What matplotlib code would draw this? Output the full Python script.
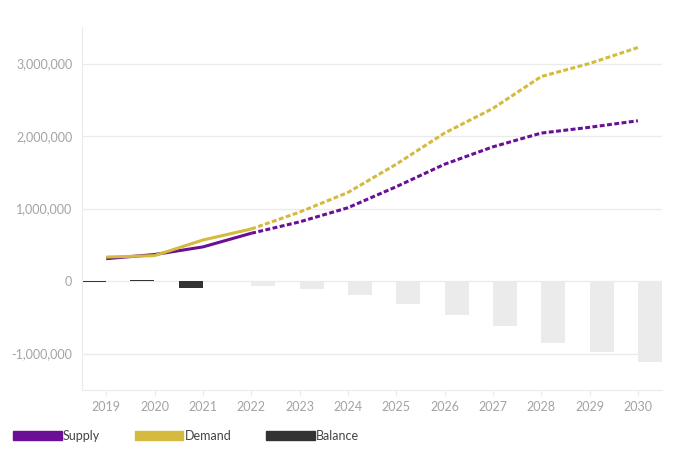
import numpy as np
import matplotlib.pyplot as plt
from matplotlib.patches import Patch
from matplotlib.ticker import FuncFormatter

years = [2019, 2020, 2021, 2022, 2023, 2024, 2025, 2026, 2027, 2028, 2029, 2030]

# supply / demand (actuals up to 2022, forecast after)
supply = [308000, 365000, 470000, 658000, 815000, 1010000, 1300000, 1610000,
          1850000, 2040000, 2120000, 2210000]
demand = [330000, 350000, 565000, 717000, 950000, 1220000, 1610000, 2040000,
          2380000, 2820000, 3000000, 3220000]

hist_years = [2019, 2020, 2021]
hist_balance = [-12000, 10000, -100000]
fc_years = [2022, 2023, 2024, 2025, 2026, 2027, 2028, 2029, 2030]
fc_balance = [-70000, -115000, -189000, -317000, -469000, -621000, -851000,
              -979000, -1120000]

purple = '#6a0f96'
gold = '#d4ba3e'
dark = '#333333'
lightbar = '#ebebeb'
gridc = '#ebebeb'
tickc = '#a3a3a3'

plt.rcParams['font.family'] = ['Lato', 'DejaVu Sans']

fig = plt.figure(figsize=(6.8, 4.59), dpi=100)
ax = fig.add_axes([82/680, 1-389.75/459, 580/680, 362.5/459])

ax.bar(np.array(hist_years) - 0.25, hist_balance, width=0.5, color=dark, zorder=2)
ax.bar(np.array(fc_years) + 0.25, fc_balance, width=0.5, color=lightbar, zorder=2)

split = years.index(2022)
ax.plot(years[:split+1], supply[:split+1], color=purple, lw=2.2, zorder=3,
        solid_capstyle='butt')
ax.plot(years[split:], supply[split:], color=purple, lw=2.2, zorder=3,
        linestyle=(0, (1.6, 0.8)))
ax.plot(years[:split+1], demand[:split+1], color=gold, lw=2.2, zorder=4,
        solid_capstyle='butt')
ax.plot(years[split:], demand[split:], color=gold, lw=2.2, zorder=4,
        linestyle=(0, (1.6, 0.8)))

ax.set_xlim(2018.5, 2030.5)
ax.set_ylim(-1500000, 3500000)
ax.set_xticks(years)
ax.set_yticks([-1000000, 0, 1000000, 2000000, 3000000])
ax.yaxis.set_major_formatter(FuncFormatter(lambda v, p: f'{int(v):,}'))

ax.grid(axis='y', color=gridc, lw=1, zorder=0)
ax.set_axisbelow(True)
for s in ['top', 'right']:
    ax.spines[s].set_visible(False)
ax.spines['left'].set_color(gridc)
ax.spines['bottom'].set_color(gridc)
ax.tick_params(axis='y', length=0, pad=7, labelsize=9, labelcolor=tickc)
ax.tick_params(axis='x', length=4, color=gridc, pad=4, labelsize=9, labelcolor=tickc)

handles = [Patch(color=purple, label='Supply'),
           Patch(color=gold, label='Demand'),
           Patch(color=dark, label='Balance')]
leg = fig.legend(handles=handles, loc='center left', bbox_to_anchor=(13/680, 1-436/459),
                 ncol=3, frameon=False, fontsize=9, handlelength=3.9, handleheight=0.7,
                 handletextpad=0.1, columnspacing=2.75, borderpad=0, borderaxespad=0)
for t in leg.get_texts():
    t.set_color('#444444')

fig.savefig('out.png', dpi=100)
